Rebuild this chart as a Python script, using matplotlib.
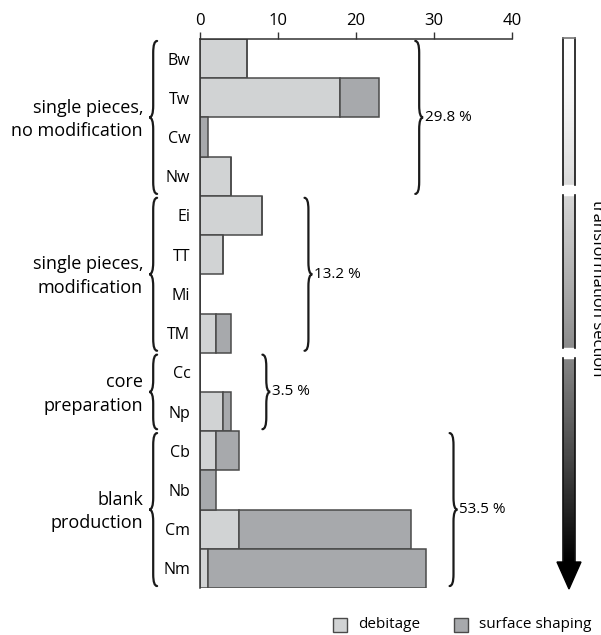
import numpy as np
import matplotlib.pyplot as plt
from matplotlib.path import Path
from matplotlib.patches import PathPatch, Rectangle, Polygon

plt.rcParams['font.family'] = ['Open Sans', 'DejaVu Sans']

# data
cats = ['Bw', 'Tw', 'Cw', 'Nw', 'Ei', 'TT', 'Mi', 'TM', 'Cc', 'Np', 'Cb', 'Nb', 'Cm', 'Nm']
debitage = [6, 18, 0, 4, 8, 3, 0, 2, 0, 3, 2, 0, 5, 1]
surface = [0, 5, 1, 0, 0, 0, 0, 2, 0, 1, 3, 2, 22, 28]
groups = ['single pieces,\nno modification', 'single pieces,\nmodification',
          'core\npreparation', 'blank\nproduction']
group_rows = [(0, 3), (4, 7), (8, 9), (10, 13)]
group_pct = ['29.8 %', '13.2 %', '3.5 %', '53.5 %']
brace_x = [27.6, 13.4, 8.0, 32.0]

c_deb = '#d1d3d4'
c_surf = '#a7a9ac'
edge = '#4a4a4a'

fig = plt.figure(figsize=(6.01, 6.35), dpi=100)
ax = fig.add_axes([200/601, 1-588/635, 312/601, 549/635])

y = np.arange(len(cats))
ax.barh(y, debitage, height=1.0, color=c_deb, edgecolor=edge, linewidth=1.1)
ax.barh(y, surface, left=debitage, height=1.0, color=c_surf, edgecolor=edge, linewidth=1.1)

ax.set_xlim(0, 40)
ax.set_ylim(13.5, -0.5)
ax.xaxis.tick_top()
ax.set_xticks([0, 10, 20, 30, 40])
ax.tick_params(axis='x', direction='out', length=5, width=1, colors='#333333',
               labelsize=12, pad=2, labelcolor='black')
ax.set_yticks(y)
ax.set_yticklabels(cats)
ax.tick_params(axis='y', length=0, pad=7, labelsize=11.5)
for s in ['right', 'bottom']:
    ax.spines[s].set_visible(False)
for s in ['top', 'left']:
    ax.spines[s].set_linewidth(1.1)
    ax.spines[s].set_color('#333333')


def brace(x, y0, y1, w, h=0.3):
    ym = (y0 + y1) / 2
    xm = x + w / 2
    verts = [(x, y0), (xm, y0), (xm, y0 + h),
             (xm, ym - h), (xm, ym), (x + w, ym),
             (xm, ym), (xm, ym + h),
             (xm, y1 - h), (xm, y1), (x, y1)]
    codes = [Path.MOVETO, Path.CURVE3, Path.CURVE3,
             Path.LINETO, Path.CURVE3, Path.CURVE3,
             Path.CURVE3, Path.CURVE3,
             Path.LINETO, Path.CURVE3, Path.CURVE3]
    ax.add_patch(PathPatch(Path(verts, codes), fill=False, lw=1.6,
                           color='#1a1a1a', clip_on=False, capstyle='round'))


for (r0, r1), name, pct, bx in zip(group_rows, groups, group_pct, brace_x):
    brace(-5.5, r0 - 0.45, r1 + 0.45, -1.0)
    ax.text(-7.3, (r0 + r1) / 2 + 0.05, name, ha='right', va='center', fontsize=13,
            linespacing=1.4, clip_on=False)
    brace(bx, r0 - 0.45, r1 + 0.45, 1.0)
    ax.text(bx + 1.2, (r0 + r1) / 2, pct, ha='left', va='center', fontsize=11,
            clip_on=False)

# transformation arrow
gx = fig.add_axes([563/601, 1-562/635, 12/601, 524/635])
gx.set_axis_off()
t = np.linspace(0, 1, 256)
shade = 1 - t ** 1.5
gx.imshow(shade[:, None], aspect='auto', cmap='gray', vmin=0, vmax=1,
          extent=[0, 1, 1, 0])
gx.set_xlim(0, 1)
gx.set_ylim(1, 0)
segs = [(0, (185-38)/524), ((195-38)/524, (348-38)/524), ((358-38)/524, 1.0)]
gx.axhspan(segs[0][1], segs[1][0], color='white')
gx.axhspan(segs[1][1], segs[2][0], color='white')
for a, b in segs:
    gx.plot([0, 0], [a, b], color='#111111', lw=1.2, clip_on=False)
    gx.plot([1, 1], [a, b], color='#111111', lw=1.2, clip_on=False)
gx.plot([0, 1], [0, 0], color='#777777', lw=1.2, clip_on=False)
fig.patches.append(Polygon([(557/601, 1-562/635), (581/601, 1-562/635),
                            (569/601, 1-589/635)], closed=True,
                           transform=fig.transFigure, color='black'))
fig.text(589/601, 1-288/635, 'transformation section', rotation=270,
         ha='left', va='center', fontsize=12)

# legend
for lx, lab, col in [(333, 'debitage', c_deb), (454, 'surface shaping', c_surf)]:
    fig.patches.append(Rectangle((lx/601, 1-632/635), 14/601, 14/635,
                                 transform=fig.transFigure, facecolor=col,
                                 edgecolor=edge, lw=1))
    fig.text((lx + 25)/601, 1-625/635, lab, ha='left', va='center', fontsize=11)

fig.savefig('out.png', dpi=100)
